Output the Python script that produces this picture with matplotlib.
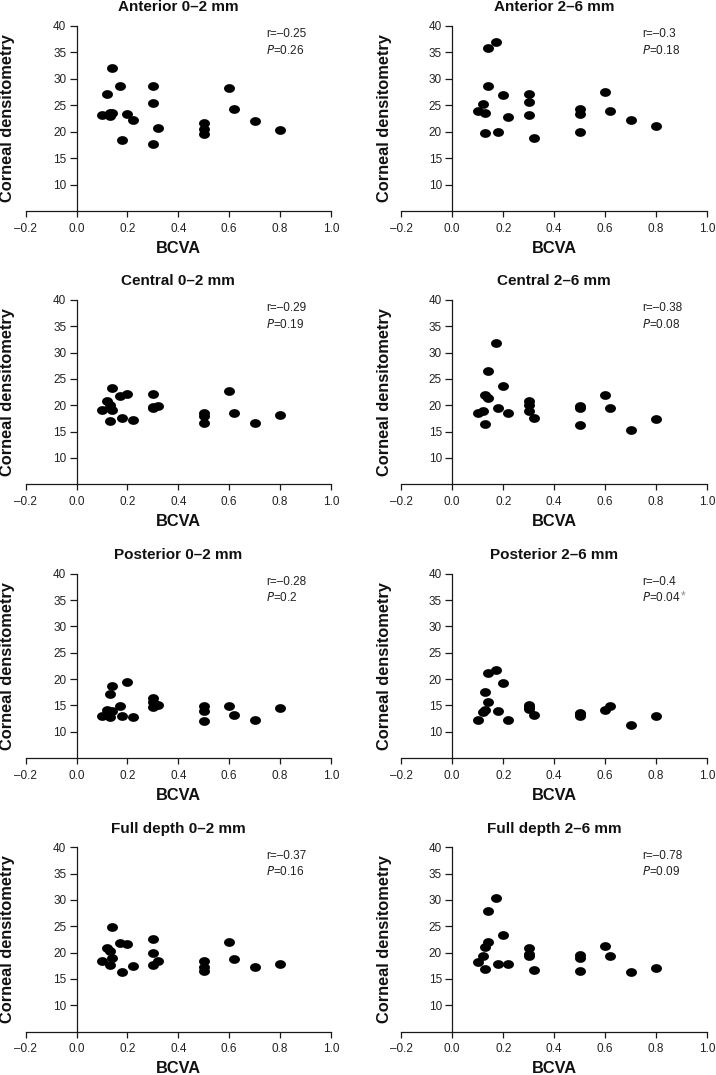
import matplotlib
matplotlib.use("Agg")
import matplotlib.pyplot as plt
from matplotlib.path import Path
import numpy as np

plt.rcParams['font.family'] = ['Liberation Sans', 'DejaVu Sans']

bcva = [0.10, 0.12, 0.13, 0.13, 0.14, 0.14, 0.17, 0.18, 0.20, 0.22,
        0.30, 0.30, 0.30, 0.32, 0.50, 0.50, 0.50, 0.60, 0.62, 0.70, 0.80]

anterior_0_2 = [23.1, 27.1, 23.6, 23.0, 32.0, 23.5, 28.6, 18.4, 23.3, 22.3,
                28.6, 25.5, 17.7, 20.7, 21.6, 20.5, 19.6, 28.2, 24.3, 22.1, 20.4]
anterior_2_6 = [23.9, 25.3, 23.6, 19.7, 35.8, 28.6, 36.9, 20.0, 26.9, 22.8,
                27.2, 25.6, 23.1, 18.8, 24.3, 23.4, 20.0, 27.5, 24.0, 22.3, 21.0]
central_0_2 = [19.1, 20.8, 20.1, 17.1, 23.3, 19.1, 21.8, 17.5, 22.2, 17.2,
               22.1, 19.6, 19.4, 19.9, 18.5, 17.9, 16.7, 22.8, 18.5, 16.6, 18.2]
central_2_6 = [18.6, 19.0, 21.9, 16.4, 26.5, 21.4, 31.8, 19.4, 23.7, 18.6,
               20.8, 20.0, 19.0, 17.5, 19.9, 19.4, 16.2, 22.0, 19.4, 15.3, 17.4]
posterior_0_2 = [12.9, 14.2, 17.2, 12.7, 18.6, 13.9, 14.9, 13.0, 19.4, 12.7,
                 16.4, 15.7, 14.6, 15.0, 14.8, 13.9, 12.1, 14.8, 13.1, 12.3, 14.5]
posterior_2_6 = [12.2, 13.7, 17.5, 14.1, 21.2, 15.7, 21.8, 13.9, 19.3, 12.2,
                 15.0, 14.6, 14.3, 13.2, 13.6, 13.3, 13.0, 14.1, 14.9, 11.3, 13.0]
full_0_2 = [18.5, 20.8, 20.4, 17.7, 24.8, 19.0, 21.9, 16.3, 21.7, 17.5,
            22.5, 20.0, 17.7, 18.5, 18.5, 17.3, 16.5, 22.0, 18.7, 17.2, 17.8]
full_2_6 = [18.3, 19.4, 21.0, 16.8, 27.9, 22.0, 30.3, 17.8, 23.4, 17.9,
            20.9, 19.8, 19.4, 16.7, 19.5, 18.9, 16.6, 21.2, 19.4, 16.3, 17.1]

titles = ["Anterior 0\u20132 mm", "Anterior 2\u20136 mm",
          "Central 0\u20132 mm", "Central 2\u20136 mm",
          "Posterior 0\u20132 mm", "Posterior 2\u20136 mm",
          "Full depth 0\u20132 mm", "Full depth 2\u20136 mm"]
series = [anterior_0_2, anterior_2_6, central_0_2, central_2_6,
          posterior_0_2, posterior_2_6, full_0_2, full_2_6]
r_values = ["\u20130.25", "\u20130.3", "\u20130.29", "\u20130.38",
            "\u20130.28", "\u20130.4", "\u20130.37", "\u20130.78"]
p_values = ["0.26", "0.18", "0.19", "0.08", "0.2", "0.04", "0.16", "0.09"]
p_star = [False, False, False, False, False, True, False, False]

x_ticks = [-0.2, 0.0, 0.2, 0.4, 0.6, 0.8, 1.0]
y_ticks = [10, 15, 20, 25, 30, 35, 40]

W, H = 716, 1075
fig = plt.figure(figsize=(W / 100, H / 100), dpi=100)

col_left = [25.7, 401.3]
col_right = [331.0, 707.0]
row_top = [26.0, 300.0, 573.7, 847.3]
row_bottom = [211.0, 484.3, 758.0, 1031.6]
ylabel_x = [8.0, 384.0]

# slightly wide ellipse marker, as in the reference
t = np.linspace(0, 2 * np.pi, 60)
ell = Path(np.column_stack([1.25 * np.cos(t), np.sin(t)]), closed=True)

col = "#1a1a1a"
tick_fs = 8.5
for i in range(8):
    r, c = divmod(i, 2)
    l = col_left[c]
    w = col_right[c] - l
    tp = row_top[r]
    h = row_bottom[r] - tp
    ax = fig.add_axes([l / W, 1 - row_bottom[r] / H, w / W, h / H])
    ax.scatter(bcva, series[i], marker=ell, s=62, color='black',
               linewidths=0, zorder=3, clip_on=False)
    ax.set_xlim(-0.2, 1.0)
    ax.set_ylim(5, 40)
    ax.set_xticks(x_ticks)
    ax.set_xticklabels([f"{v:.1f}".replace("-", "\u2013") for v in x_ticks])
    ax.set_yticks(y_ticks)
    ax.spines['top'].set_visible(False)
    ax.spines['right'].set_visible(False)
    ax.spines['left'].set_position(('data', 0))
    for s in ('left', 'bottom'):
        ax.spines[s].set_linewidth(0.9)
        ax.spines[s].set_color(col)
    ax.tick_params(axis='both', direction='out', width=0.9,
                   colors=col, labelsize=tick_fs, labelcolor='#222222')
    ax.tick_params(axis='x', length=4, pad=4.5)
    ax.tick_params(axis='y', length=5, pad=2.5)
    ax.set_title(titles[i], fontsize=11, fontweight='bold', pad=10.5,
                 color='#111111')
    ax.set_xlabel("BCVA", fontsize=11.8, fontweight='bold', color='#111111')
    ax.xaxis.label.set_va('center')
    ax.xaxis.set_label_coords(0.5, -(248 - 211) / h)
    ax.set_ylabel("Corneal densitometry", fontsize=11.8, fontweight='bold',
                  color='#111111')
    ax.yaxis.label.set_va('center')
    ax.yaxis.set_label_coords(-(l - ylabel_x[c]) / w, 0.5)
    ax.text(0.745, 38.4, "r=" + r_values[i], fontsize=tick_fs, ha='left',
            va='center', color='#222222')
    ptxt = ax.text(0.745, 35.4, "$\\it{P}$=" + p_values[i], fontsize=tick_fs,
                   ha='left', va='center', color='#222222')
    if p_star[i]:
        ax.annotate("*", xy=(1, 0.6), xycoords=ptxt, ha='left', va='center',
                    fontsize=tick_fs, color='#888888')

fig.savefig("out.png", dpi=100)
